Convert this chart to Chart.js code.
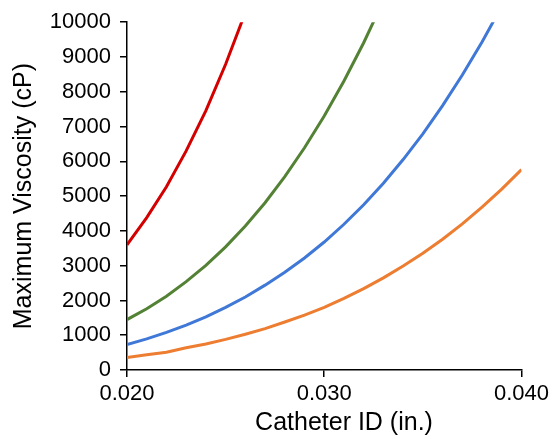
<!DOCTYPE html>
<html>
<head>
<meta charset="utf-8">
<script src="https://cdn.jsdelivr.net/npm/chart.js@4/dist/chart.umd.min.js"></script>
<style>
    html, body { margin: 0; padding: 0; background: #fff; }
    #wrap { width: 553px; height: 439px; }
</style>
</head>
<body>
<div id="wrap"><canvas id="viscosityChart"></canvas></div>
<script>
// Catheter inner diameters (in.)
const catheterIds = [0.020, 0.021, 0.022, 0.023, 0.024, 0.025, 0.026, 0.027, 0.028, 0.029, 0.030,
    0.031, 0.032, 0.033, 0.034, 0.035, 0.036, 0.037, 0.038, 0.039, 0.040];

// Max viscosity (cP) per curve
const redVals = [3600, 4380, 5270, 6300, 7460, 8790, 10280];
const greenVals = [1450, 1760, 2120, 2540, 3010, 3540, 4140, 4810, 5560, 6390, 7300, 8310, 9410, 10620];
const blueVals = [735, 895, 1080, 1290, 1530, 1800, 2100, 2440, 2810, 3220, 3680, 4190, 4750, 5370,
    6050, 6790, 7600, 8480, 9430, 10460, 11560];
const orangeVals = [360, 440, 510, 640, 750, 880, 1030, 1190, 1380, 1580, 1800, 2060, 2340, 2650,
    2990, 3360, 3760, 4200, 4680, 5200, 5760];

const xTickLabels = ['0.020', '0.030', '0.040'];
const yTickStep = 1000;

function toPoints(vals) {
    return vals.map((v, i) => ({ x: catheterIds[i], y: v }));
}

function makeSet(vals, color) {
    return {
        data: toPoints(vals),
        borderColor: color,
        borderWidth: 3,
        pointRadius: 0,
        tension: 0,
        fill: false
    };
}

const FONT = 'Liberation Sans, Arial, Helvetica, sans-serif';

// x title drawn by hand so it can sit where the original has it
const xTitlePlugin = {
    id: 'xTitle',
    afterDraw: (chart) => {
        const { ctx } = chart;
        ctx.save();
        ctx.font = `25px ${FONT}`;
        ctx.fillStyle = '#000';
        ctx.textAlign = 'center';
        ctx.textBaseline = 'middle';
        ctx.fillText('Catheter ID (in.)', 344, 423);
        ctx.restore();
    }
};

new Chart(document.getElementById('viscosityChart'), {
    type: 'line',
    data: {
        datasets: [
            makeSet(redVals, '#d40000'),
            makeSet(greenVals, '#548235'),
            makeSet(blueVals, '#3f78d6'),
            makeSet(orangeVals, '#ED7D31')
        ]
    },
    options: {
        responsive: true,
        maintainAspectRatio: false,
        animation: false,
        layout: { padding: { top: 20, right: 25, left: 9, bottom: 0 } },
        plugins: {
            legend: { display: false },
            tooltip: { enabled: false }
        },
        scales: {
            x: {
                type: 'linear',
                min: 0.02,
                max: 0.04,
                afterFit: (scale) => { scale.height = 69; },
                ticks: {
                    stepSize: 0.01,
                    color: '#000',
                    font: { family: FONT, size: 22 },
                    padding: 4,
                    maxRotation: 0,
                    callback: (v) => {
                        const idx = Math.round((v - 0.02) / 0.01);
                        return xTickLabels[idx] !== undefined ? xTickLabels[idx] : '';
                    }
                },
                grid: { drawOnChartArea: false, drawTicks: true, tickLength: 7, color: '#000', lineWidth: 1.5 },
                border: { color: '#000', width: 1.5 }
            },
            y: {
                min: 0,
                max: 10000,
                afterFit: (scale) => { scale.width = 118; },
                title: {
                    display: true,
                    text: 'Maximum Viscosity (cP)',
                    color: '#000',
                    font: { family: FONT, size: 25 },
                    padding: { top: 0, bottom: 4 }
                },
                ticks: {
                    stepSize: yTickStep,
                    color: '#000',
                    font: { family: FONT, size: 22 },
                    padding: 9,
                    callback: (v) => String(v)
                },
                grid: { drawOnChartArea: false, drawTicks: true, tickLength: 7, color: '#000', lineWidth: 1.5 },
                border: { color: '#000', width: 1.5 }
            }
        }
    },
    plugins: [xTitlePlugin]
});
</script>
</body>
</html>
